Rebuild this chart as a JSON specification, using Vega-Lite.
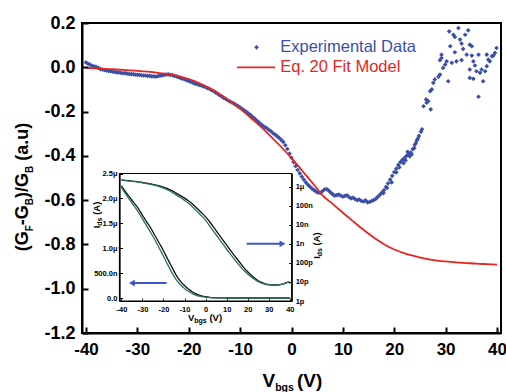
{
"$schema": "https://vega.github.io/schema/vega-lite/v6.json",
"width": 419, "height": 310,
"autosize": {"type": "none"},
"padding": {"left": 82, "top": 23, "right": 5, "bottom": 59},
"background": "white",
"config": {"font": "Liberation Sans", "view": {"stroke": "black", "strokeWidth": 2}, "axis": {"grid": false, "labelFont": "Liberation Sans", "labelFontWeight": "bold", "labelColor": "black", "domainColor": "black", "tickColor": "black"}},
"datasets": {
"exp": [
{"V":-40.0,"G":0.022},{"V":-39.6,"G":0.016},{"V":-39.2,"G":0.012},{"V":-38.8,"G":0.006},{"V":-38.4,"G":0.004},{"V":-38.0,"G":0.001},{"V":-37.6,"G":-0.003},{"V":-37.2,"G":-0.008},{"V":-36.8,"G":-0.010},{"V":-36.4,"G":-0.013},{"V":-36.0,"G":-0.014},{"V":-35.6,"G":-0.017},{"V":-35.2,"G":-0.017},{"V":-34.8,"G":-0.020},{"V":-34.4,"G":-0.021},{"V":-34.0,"G":-0.023},{"V":-33.6,"G":-0.023},{"V":-33.2,"G":-0.025},{"V":-32.8,"G":-0.027},{"V":-32.4,"G":-0.026},{"V":-32.0,"G":-0.029},{"V":-31.6,"G":-0.030},{"V":-31.2,"G":-0.031},{"V":-30.8,"G":-0.031},{"V":-30.4,"G":-0.033},{"V":-30.0,"G":-0.034},{"V":-29.6,"G":-0.034},{"V":-29.2,"G":-0.036},{"V":-28.8,"G":-0.037},{"V":-28.4,"G":-0.037},{"V":-28.0,"G":-0.039},{"V":-27.6,"G":-0.039},{"V":-27.2,"G":-0.041},{"V":-26.8,"G":-0.041},{"V":-26.4,"G":-0.042},{"V":-26.0,"G":-0.040},{"V":-25.6,"G":-0.038},{"V":-25.2,"G":-0.037},{"V":-24.8,"G":-0.034},{"V":-24.4,"G":-0.033},{"V":-24.0,"G":-0.032},{"V":-23.6,"G":-0.034},{"V":-23.2,"G":-0.035},{"V":-22.8,"G":-0.039},{"V":-22.4,"G":-0.041},{"V":-22.0,"G":-0.045},{"V":-21.6,"G":-0.048},{"V":-21.2,"G":-0.052},{"V":-20.8,"G":-0.054},{"V":-20.4,"G":-0.059},{"V":-20.0,"G":-0.062},{"V":-19.6,"G":-0.066},{"V":-19.2,"G":-0.069},{"V":-18.8,"G":-0.074},{"V":-18.4,"G":-0.076},{"V":-18.0,"G":-0.080},{"V":-17.6,"G":-0.082},{"V":-17.2,"G":-0.086},{"V":-16.8,"G":-0.089},{"V":-16.4,"G":-0.094},{"V":-16.0,"G":-0.097},{"V":-15.6,"G":-0.103},{"V":-15.2,"G":-0.107},{"V":-14.8,"G":-0.114},{"V":-14.4,"G":-0.119},{"V":-14.0,"G":-0.126},{"V":-13.6,"G":-0.131},{"V":-13.2,"G":-0.138},{"V":-12.8,"G":-0.143},{"V":-12.4,"G":-0.149},{"V":-12.0,"G":-0.154},{"V":-11.6,"G":-0.159},{"V":-11.2,"G":-0.164},{"V":-10.8,"G":-0.170},{"V":-10.4,"G":-0.175},{"V":-10.0,"G":-0.182},{"V":-9.6,"G":-0.188},{"V":-9.2,"G":-0.195},{"V":-8.8,"G":-0.201},{"V":-8.4,"G":-0.209},{"V":-8.0,"G":-0.215},{"V":-7.6,"G":-0.224},{"V":-7.2,"G":-0.231},{"V":-6.8,"G":-0.240},{"V":-6.4,"G":-0.247},{"V":-6.0,"G":-0.256},{"V":-5.6,"G":-0.263},{"V":-5.2,"G":-0.270},{"V":-4.8,"G":-0.275},{"V":-4.4,"G":-0.283},{"V":-4.0,"G":-0.289},{"V":-3.6,"G":-0.298},{"V":-3.2,"G":-0.304},{"V":-2.8,"G":-0.312},{"V":-2.4,"G":-0.319},{"V":-2.0,"G":-0.328},{"V":-1.6,"G":-0.337},{"V":-1.2,"G":-0.352},{"V":-0.8,"G":-0.369},{"V":-0.4,"G":-0.390},{"V":0.0,"G":-0.409},{"V":0.4,"G":-0.428},{"V":0.8,"G":-0.446},{"V":1.2,"G":-0.464},{"V":1.6,"G":-0.479},{"V":2.0,"G":-0.494},{"V":2.4,"G":-0.507},{"V":2.8,"G":-0.520},{"V":3.2,"G":-0.531},{"V":3.6,"G":-0.540},{"V":4.0,"G":-0.548},{"V":4.4,"G":-0.555},{"V":4.8,"G":-0.562},{"V":5.2,"G":-0.566},{"V":5.6,"G":-0.567},{"V":6.0,"G":-0.560},{"V":6.4,"G":-0.552},{"V":6.8,"G":-0.550},{"V":7.2,"G":-0.556},{"V":7.6,"G":-0.565},{"V":8.0,"G":-0.573},{"V":8.4,"G":-0.580},{"V":8.8,"G":-0.577},{"V":9.2,"G":-0.575},{"V":9.6,"G":-0.580},{"V":10.0,"G":-0.584},{"V":10.4,"G":-0.581},{"V":10.8,"G":-0.578},{"V":11.2,"G":-0.586},{"V":11.6,"G":-0.592},{"V":12.0,"G":-0.589},{"V":12.4,"G":-0.596},{"V":12.8,"G":-0.600},{"V":13.2,"G":-0.597},{"V":13.6,"G":-0.604},{"V":14.0,"G":-0.606},{"V":14.4,"G":-0.601},{"V":14.8,"G":-0.610},{"V":15.2,"G":-0.608},{"V":15.6,"G":-0.604},{"V":16.0,"G":-0.600},{"V":16.4,"G":-0.594},{"V":16.8,"G":-0.585},{"V":17.2,"G":-0.576},{"V":17.6,"G":-0.566},{"V":18.0,"G":-0.555},{"V":18.4,"G":-0.540},{"V":18.8,"G":-0.524},{"V":19.2,"G":-0.507},{"V":19.6,"G":-0.490},{"V":20.0,"G":-0.473},{"V":20.4,"G":-0.458},{"V":20.8,"G":-0.441},{"V":21.2,"G":-0.428},{"V":21.6,"G":-0.418},{"V":22.0,"G":-0.410},{"V":22.4,"G":-0.400},{"V":22.8,"G":-0.392},{"V":23.2,"G":-0.385},{"V":23.6,"G":-0.370},{"V":24.0,"G":-0.350},{"V":24.4,"G":-0.330},{"V":24.8,"G":-0.310},{"V":25.2,"G":-0.291},{"V":25.4,"G":-0.280},
{"V":19.5,"G":-0.520},{"V":20.4,"G":-0.475},{"V":21.0,"G":-0.452},{"V":21.8,"G":-0.433},{"V":22.2,"G":-0.420},{"V":23.0,"G":-0.402},{"V":23.4,"G":-0.393},{"V":23.9,"G":-0.365},{"V":22.6,"G":-0.382},{"V":24.2,"G":-0.342},{"V":24.6,"G":-0.322},{"V":17.9,"G":-0.568},{"V":18.6,"G":-0.545},
{"V":25.7,"G":-0.176},{"V":26.2,"G":-0.145},{"V":26.6,"G":-0.153},{"V":27.1,"G":-0.190},{"V":26.3,"G":-0.160},{"V":27.0,"G":-0.108},{"V":27.3,"G":-0.100},{"V":27.6,"G":-0.070},{"V":27.9,"G":-0.055},{"V":28.6,"G":-0.043},{"V":28.9,"G":-0.033},{"V":29.5,"G":-0.003},{"V":29.9,"G":0.012},{"V":30.2,"G":0.027},{"V":28.9,"G":0.032},{"V":29.2,"G":0.057},{"V":29.2,"G":0.042},{"V":30.5,"G":-0.063},{"V":30.7,"G":0.162},{"V":31.5,"G":0.147},{"V":32.5,"G":0.177},{"V":34.4,"G":0.167},{"V":31.8,"G":0.137},{"V":32.8,"G":0.125},{"V":33.8,"G":0.147},{"V":33.1,"G":0.107},{"V":34.7,"G":0.102},{"V":30.9,"G":0.095},{"V":31.8,"G":0.068},{"V":33.4,"G":0.083},{"V":35.1,"G":0.095},{"V":34.1,"G":0.057},{"V":33.1,"G":0.032},{"V":32.1,"G":0.027},{"V":31.2,"G":0.020},{"V":35.1,"G":0.053},{"V":36.4,"G":0.057},{"V":35.4,"G":0.027},{"V":35.7,"G":0.008},{"V":34.7,"G":-0.010},{"V":36.0,"G":-0.018},{"V":37.0,"G":-0.010},{"V":36.7,"G":-0.025},{"V":37.7,"G":-0.018},{"V":38.0,"G":0.005},{"V":38.3,"G":0.035},{"V":38.0,"G":0.057},{"V":39.0,"G":0.050},{"V":39.9,"G":0.087},{"V":39.6,"G":0.065},{"V":39.3,"G":0.053},{"V":38.6,"G":0.027},{"V":37.3,"G":-0.063},{"V":35.4,"G":-0.052},{"V":36.4,"G":-0.133},{"V":34.7,"G":-0.048}
],
"fit": [
{"V":-40,"G":-0.003},{"V":-38,"G":-0.005},{"V":-36,"G":-0.007},{"V":-34,"G":-0.010},{"V":-32,"G":-0.013},{"V":-30,"G":-0.016},{"V":-28,"G":-0.020},{"V":-26,"G":-0.025},{"V":-24,"G":-0.031},{"V":-22,"G":-0.040},{"V":-20,"G":-0.053},{"V":-18,"G":-0.071},{"V":-16,"G":-0.094},{"V":-14,"G":-0.121},{"V":-12,"G":-0.153},{"V":-10,"G":-0.188},{"V":-8,"G":-0.227},{"V":-6,"G":-0.268},{"V":-4,"G":-0.313},{"V":-2,"G":-0.360},{"V":0,"G":-0.410},{"V":1,"G":-0.437},{"V":2,"G":-0.465},{"V":3,"G":-0.493},{"V":4,"G":-0.520},{"V":5,"G":-0.549},{"V":6,"G":-0.577},{"V":8,"G":-0.617},{"V":10,"G":-0.657},{"V":12,"G":-0.696},{"V":14,"G":-0.734},{"V":16,"G":-0.769},{"V":18,"G":-0.799},{"V":20,"G":-0.823},{"V":22,"G":-0.840},{"V":24,"G":-0.853},{"V":26,"G":-0.864},{"V":28,"G":-0.872},{"V":30,"G":-0.877},{"V":32,"G":-0.881},{"V":34,"G":-0.884},{"V":36,"G":-0.887},{"V":38,"G":-0.889},{"V":40,"G":-0.891}
],
"iv": [
{"V":-40,"I":2.25e-6,"s":"A"},{"V":-38,"I":2.13e-6,"s":"A"},{"V":-36,"I":2.02e-6,"s":"A"},{"V":-34,"I":1.91e-6,"s":"A"},{"V":-32,"I":1.8e-6,"s":"A"},{"V":-30,"I":1.66e-6,"s":"A"},{"V":-28,"I":1.53e-6,"s":"A"},{"V":-26,"I":1.4e-6,"s":"A"},{"V":-24,"I":1.25e-6,"s":"A"},{"V":-22,"I":1.1e-6,"s":"A"},{"V":-20,"I":0.95e-6,"s":"A"},{"V":-18,"I":0.78e-6,"s":"A"},{"V":-16,"I":0.62e-6,"s":"A"},{"V":-14,"I":0.46e-6,"s":"A"},{"V":-12,"I":0.34e-6,"s":"A"},{"V":-10,"I":0.25e-6,"s":"A"},{"V":-8,"I":0.175e-6,"s":"A"},{"V":-6,"I":0.115e-6,"s":"A"},{"V":-4,"I":0.072e-6,"s":"A"},{"V":-2,"I":0.044e-6,"s":"A"},{"V":0,"I":2.6e-8,"s":"A"},{"V":2,"I":1.4e-8,"s":"A"},{"V":4,"I":7e-9,"s":"A"},{"V":6,"I":3.4e-9,"s":"A"},{"V":8,"I":1.7e-9,"s":"A"},{"V":10,"I":8.5e-10,"s":"A"},{"V":12,"I":4.3e-10,"s":"A"},{"V":14,"I":2.2e-10,"s":"A"},{"V":16,"I":1.15e-10,"s":"A"},{"V":18,"I":6e-11,"s":"A"},{"V":20,"I":3.4e-11,"s":"A"},{"V":22,"I":2.1e-11,"s":"A"},{"V":24,"I":1.4e-11,"s":"A"},{"V":26,"I":1e-11,"s":"A"},{"V":28,"I":8.2e-12,"s":"A"},{"V":30,"I":7.3e-12,"s":"A"},{"V":32,"I":6.9e-12,"s":"A"},{"V":34,"I":6.9e-12,"s":"A"},{"V":36,"I":7.4e-12,"s":"A"},{"V":38,"I":8.6e-12,"s":"A"},{"V":39.5,"I":1e-11,"s":"A"},{"V":40,"I":8.5e-12,"s":"A"},
{"V":-40,"I":2.22e-6,"s":"B"},{"V":-38,"I":2.09e-6,"s":"B"},{"V":-36,"I":1.97e-6,"s":"B"},{"V":-34,"I":1.85e-6,"s":"B"},{"V":-32,"I":1.73e-6,"s":"B"},{"V":-30,"I":1.59e-6,"s":"B"},{"V":-28,"I":1.45e-6,"s":"B"},{"V":-26,"I":1.31e-6,"s":"B"},{"V":-24,"I":1.16e-6,"s":"B"},{"V":-22,"I":1.0e-6,"s":"B"},{"V":-20,"I":0.84e-6,"s":"B"},{"V":-18,"I":0.67e-6,"s":"B"},{"V":-16,"I":0.51e-6,"s":"B"},{"V":-14,"I":0.37e-6,"s":"B"},{"V":-12,"I":0.27e-6,"s":"B"},{"V":-10,"I":0.19e-6,"s":"B"},{"V":-8,"I":0.13e-6,"s":"B"},{"V":-6,"I":0.083e-6,"s":"B"},{"V":-4,"I":0.05e-6,"s":"B"},{"V":-2,"I":0.03e-6,"s":"B"},{"V":0,"I":1.7e-8,"s":"B"},{"V":2,"I":8.5e-9,"s":"B"},{"V":4,"I":4.2e-9,"s":"B"},{"V":6,"I":2.1e-9,"s":"B"},{"V":8,"I":1.05e-9,"s":"B"},{"V":10,"I":5.2e-10,"s":"B"},{"V":12,"I":2.7e-10,"s":"B"},{"V":14,"I":1.4e-10,"s":"B"},{"V":16,"I":7.5e-11,"s":"B"},{"V":18,"I":4.2e-11,"s":"B"},{"V":20,"I":2.6e-11,"s":"B"},{"V":22,"I":1.7e-11,"s":"B"},{"V":24,"I":1.2e-11,"s":"B"},{"V":26,"I":9.2e-12,"s":"B"},{"V":28,"I":7.8e-12,"s":"B"},{"V":30,"I":7.1e-12,"s":"B"},{"V":32,"I":6.8e-12,"s":"B"},{"V":34,"I":6.9e-12,"s":"B"},{"V":36,"I":7.4e-12,"s":"B"},{"V":38,"I":8.6e-12,"s":"B"},{"V":39.5,"I":9.8e-12,"s":"B"},{"V":40,"I":8.3e-12,"s":"B"}
]
},
"layer": [
{
"layer": [
{"data": {"name": "exp"}, "mark": {"type": "point", "shape": "diamond", "filled": true, "size": 22, "color": "#3a4fa8", "opacity": 1},
 "encoding": {
  "x": {"field": "V", "type": "quantitative", "scale": {"domain": [-40.78, 40.78], "nice": false, "zero": false},
   "axis": {"orient": "bottom", "title": null, "values": [-40,-35,-30,-25,-20,-15,-10,-5,0,5,10,15,20,25,30,35,40], "labelExpr": "datum.value % 10 === 0 ? '' + datum.value : ''", "tickSize": -6, "tickDash": {"condition": {"test": "datum.value % 10 !== 0", "value": [3.5, 20]}, "value": [1, 0]}, "tickWidth": 2, "domainWidth": 2, "labelFontSize": 17, "labelPadding": 14, "labelFlush": false, "labelOverlap": false, "zindex": 1}},
  "y": {"field": "G", "type": "quantitative", "scale": {"domain": [-1.2, 0.2], "nice": false, "zero": false},
   "axis": {"orient": "left", "title": null, "values": [-1.2,-1.1,-1.0,-0.9,-0.8,-0.7,-0.6,-0.5,-0.4,-0.3,-0.2,-0.1,0,0.1,0.2], "labelExpr": "abs(round(datum.value*10)) % 2 === 0 ? replace(format(datum.value, '.1f'), '\u2212', '-') : ''", "tickSize": -6, "tickDash": {"condition": {"test": "abs(round(datum.value*10)) % 2 === 1", "value": [3.5, 20]}, "value": [1, 0]}, "tickWidth": 2, "domainWidth": 2, "labelFontSize": 18, "labelPadding": 13, "labelFlush": false, "labelOverlap": false, "zindex": 1}}
 }},
{"data": {"name": "fit"}, "mark": {"type": "line", "color": "#e5261e", "strokeWidth": 1.8, "interpolate": "monotone"},
 "encoding": {"x": {"field": "V", "type": "quantitative", "scale": {"domain": [-40.78, 40.78], "nice": false, "zero": false}}, "y": {"field": "G", "type": "quantitative", "scale": {"domain": [-1.2, 0.2], "nice": false, "zero": false}}}},
{"data": {"values": [{}]}, "mark": {"type": "point", "shape": "diamond", "filled": true, "size": 22, "color": "#3a4fa8", "opacity": 1},
 "encoding": {"x": {"datum": -6.8, "type": "quantitative", "scale": {"domain": [-40.78, 40.78], "nice": false, "zero": false}}, "y": {"datum": 0.09, "type": "quantitative", "scale": {"domain": [-1.2, 0.2], "nice": false, "zero": false}}}},
{"data": {"values": [{}]}, "mark": {"type": "text", "text": "Experimental Data", "align": "left", "baseline": "middle", "fontSize": 16.5, "font": "Liberation Sans", "color": "#3a4fa8"},
 "encoding": {"x": {"datum": -2.2, "type": "quantitative", "scale": {"domain": [-40.78, 40.78], "nice": false, "zero": false}}, "y": {"datum": 0.09, "type": "quantitative", "scale": {"domain": [-1.2, 0.2], "nice": false, "zero": false}}}},
{"data": {"values": [{}]}, "mark": {"type": "rule", "color": "#e5261e", "strokeWidth": 1.8},
 "encoding": {"x": {"datum": -10.6, "type": "quantitative", "scale": {"domain": [-40.78, 40.78], "nice": false, "zero": false}}, "x2": {"datum": -3.2}, "y": {"datum": 0.0, "type": "quantitative", "scale": {"domain": [-1.2, 0.2], "nice": false, "zero": false}}}},
{"data": {"values": [{}]}, "mark": {"type": "text", "text": "Eq. 20 Fit Model", "align": "left", "baseline": "middle", "fontSize": 16.5, "font": "Liberation Sans", "color": "#e5261e"},
 "encoding": {"x": {"datum": -2.2, "type": "quantitative", "scale": {"domain": [-40.78, 40.78], "nice": false, "zero": false}}, "y": {"datum": 0.0, "type": "quantitative", "scale": {"domain": [-1.2, 0.2], "nice": false, "zero": false}}}},
{"data": {"values": [{}]}, "mark": {"type": "text", "text": "V", "align": "left", "baseline": "alphabetic", "fontSize": 19, "fontWeight": "bold", "color": "black", "dx": -29, "dy": 54},
 "encoding": {"x": {"datum": 0, "type": "quantitative", "scale": {"domain": [-40.78, 40.78], "nice": false, "zero": false}}, "y": {"datum": -1.2, "type": "quantitative", "scale": {"domain": [-1.2, 0.2], "nice": false, "zero": false}}}},
{"data": {"values": [{}]}, "mark": {"type": "text", "text": "bgs", "align": "left", "baseline": "alphabetic", "fontSize": 10.5, "fontWeight": "bold", "color": "black", "dx": -16.3, "dy": 57.5},
 "encoding": {"x": {"datum": 0, "type": "quantitative", "scale": {"domain": [-40.78, 40.78], "nice": false, "zero": false}}, "y": {"datum": -1.2, "type": "quantitative", "scale": {"domain": [-1.2, 0.2], "nice": false, "zero": false}}}},
{"data": {"values": [{}]}, "mark": {"type": "text", "text": "(V)", "align": "left", "baseline": "alphabetic", "fontSize": 19, "fontWeight": "bold", "color": "black", "dx": 5.5, "dy": 54},
 "encoding": {"x": {"datum": 0, "type": "quantitative", "scale": {"domain": [-40.78, 40.78], "nice": false, "zero": false}}, "y": {"datum": -1.2, "type": "quantitative", "scale": {"domain": [-1.2, 0.2], "nice": false, "zero": false}}}},
{"data": {"values": [{}]}, "mark": {"type": "text", "text": "(G", "angle": 270, "align": "left", "baseline": "alphabetic", "fontSize": 18, "fontWeight": "bold", "color": "black", "dx": -73.25, "dy": -53.7},
 "encoding": {"x": {"datum": -40.78, "type": "quantitative", "scale": {"domain": [-40.78, 40.78], "nice": false, "zero": false}}, "y": {"datum": -0.5, "type": "quantitative", "scale": {"domain": [-1.2, 0.2], "nice": false, "zero": false}}}},
{"data": {"values": [{}]}, "mark": {"type": "text", "text": "F", "angle": 270, "align": "left", "baseline": "alphabetic", "fontSize": 10, "fontWeight": "bold", "color": "black", "dx": -53.25, "dy": -49},
 "encoding": {"x": {"datum": -40.78, "type": "quantitative", "scale": {"domain": [-40.78, 40.78], "nice": false, "zero": false}}, "y": {"datum": -0.5, "type": "quantitative", "scale": {"domain": [-1.2, 0.2], "nice": false, "zero": false}}}},
{"data": {"values": [{}]}, "mark": {"type": "text", "text": "-G", "angle": 270, "align": "left", "baseline": "alphabetic", "fontSize": 18, "fontWeight": "bold", "color": "black", "dx": -47.14, "dy": -53.7},
 "encoding": {"x": {"datum": -40.78, "type": "quantitative", "scale": {"domain": [-40.78, 40.78], "nice": false, "zero": false}}, "y": {"datum": -0.5, "type": "quantitative", "scale": {"domain": [-1.2, 0.2], "nice": false, "zero": false}}}},
{"data": {"values": [{}]}, "mark": {"type": "text", "text": "B", "angle": 270, "align": "left", "baseline": "alphabetic", "fontSize": 10, "fontWeight": "bold", "color": "black", "dx": -27.14, "dy": -49},
 "encoding": {"x": {"datum": -40.78, "type": "quantitative", "scale": {"domain": [-40.78, 40.78], "nice": false, "zero": false}}, "y": {"datum": -0.5, "type": "quantitative", "scale": {"domain": [-1.2, 0.2], "nice": false, "zero": false}}}},
{"data": {"values": [{}]}, "mark": {"type": "text", "text": ")/G", "angle": 270, "align": "left", "baseline": "alphabetic", "fontSize": 18, "fontWeight": "bold", "color": "black", "dx": -19.92, "dy": -53.7},
 "encoding": {"x": {"datum": -40.78, "type": "quantitative", "scale": {"domain": [-40.78, 40.78], "nice": false, "zero": false}}, "y": {"datum": -0.5, "type": "quantitative", "scale": {"domain": [-1.2, 0.2], "nice": false, "zero": false}}}},
{"data": {"values": [{}]}, "mark": {"type": "text", "text": "B", "angle": 270, "align": "left", "baseline": "alphabetic", "fontSize": 10, "fontWeight": "bold", "color": "black", "dx": 5.08, "dy": -49},
 "encoding": {"x": {"datum": -40.78, "type": "quantitative", "scale": {"domain": [-40.78, 40.78], "nice": false, "zero": false}}, "y": {"datum": -0.5, "type": "quantitative", "scale": {"domain": [-1.2, 0.2], "nice": false, "zero": false}}}},
{"data": {"values": [{}]}, "mark": {"type": "text", "text": "(a.u)", "angle": 270, "align": "left", "baseline": "alphabetic", "fontSize": 18, "fontWeight": "bold", "color": "black", "dx": 17.3, "dy": -53.7},
 "encoding": {"x": {"datum": -40.78, "type": "quantitative", "scale": {"domain": [-40.78, 40.78], "nice": false, "zero": false}}, "y": {"datum": -0.5, "type": "quantitative", "scale": {"domain": [-1.2, 0.2], "nice": false, "zero": false}}}}
]
},
{
"layer": [
{"data": {"values": [{}]}, "mark": {"type": "rect", "fill": "white", "stroke": "black", "strokeWidth": 1.2},
 "encoding": {
  "x": {"datum": -40.9, "type": "quantitative", "scale": {"domain": [-40.9, 40.9], "range": [37.5, 209.7], "nice": false, "zero": false},
   "axis": {"orient": "bottom", "offset": -32, "title": null, "values": [-40,-35,-30,-25,-20,-15,-10,-5,0,5,10,15,20,25,30,35,40], "labelExpr": "datum.value % 10 === 0 ? '' + datum.value : ''", "tickSize": -3, "tickDash": {"condition": {"test": "datum.value % 10 !== 0", "value": [2, 10]}, "value": [1, 0]}, "tickWidth": 1, "domainWidth": 1.2, "labelFontSize": 7.5, "labelPadding": 7.5, "labelFlush": false, "labelOverlap": false, "zindex": 1}},
  "x2": {"datum": 40.9},
  "y": {"datum": -6e-8, "type": "quantitative", "scale": {"domain": [-6e-8, 2.5e-6], "range": [278, 150.5], "nice": false, "zero": false},
   "axis": {"orient": "left", "offset": -37.5, "title": null, "values": [0, 2.5e-7, 5e-7, 7.5e-7, 1e-6, 1.25e-6, 1.5e-6, 1.75e-6, 2e-6, 2.25e-6, 2.5e-6], "labelExpr": "round(datum.value*4e6) % 2 !== 0 ? '' : datum.value === 0 ? '0.0' : datum.value < 9e-7 ? format(datum.value*1e9, '.1f') + 'n' : format(datum.value*1e6, '.1f') + '\u03bc'", "tickSize": -3, "tickDash": {"condition": {"test": "round(datum.value*4e6) % 2 !== 0", "value": [2, 10]}, "value": [1, 0]}, "tickWidth": 1, "domainWidth": 1.2, "labelFontSize": 7.5, "labelPadding": 5.5, "labelFlush": false, "labelOverlap": false, "zindex": 1}},
  "y2": {"datum": 2.5e-6}
 }},
{"data": {"name": "iv"}, "mark": {"type": "line", "strokeWidth": 1.3, "interpolate": "monotone"},
 "encoding": {"x": {"field": "V", "type": "quantitative", "scale": {"domain": [-40.9, 40.9], "range": [37.5, 209.7], "nice": false, "zero": false}}, "y": {"field": "I", "type": "quantitative", "scale": {"domain": [-6e-8, 2.5e-6], "range": [278, 150.5], "nice": false, "zero": false}}, "color": {"field": "s", "type": "nominal", "scale": {"domain": ["A", "B"], "range": ["#111111", "#2b6e62"]}, "legend": null}}},
{"data": {"values": [{}]}, "mark": {"type": "rule", "color": "#3d56c4", "strokeWidth": 2},
 "encoding": {"x": {"datum": -18.5, "type": "quantitative", "scale": {"domain": [-40.9, 40.9], "range": [37.5, 209.7], "nice": false, "zero": false}}, "x2": {"datum": -34.5}, "y": {"datum": 3e-7, "type": "quantitative", "scale": {"domain": [-6e-8, 2.5e-6], "range": [278, 150.5], "nice": false, "zero": false}}}},
{"data": {"values": [{}]}, "mark": {"type": "point", "shape": "triangle-left", "filled": true, "size": 45, "color": "#3d56c4", "opacity": 1},
 "encoding": {"x": {"datum": -35, "type": "quantitative", "scale": {"domain": [-40.9, 40.9], "range": [37.5, 209.7], "nice": false, "zero": false}}, "y": {"datum": 3e-7, "type": "quantitative", "scale": {"domain": [-6e-8, 2.5e-6], "range": [278, 150.5], "nice": false, "zero": false}}}},
{"data": {"values": [{}]}, "mark": {"type": "text", "text": "V", "align": "left", "baseline": "alphabetic", "fontSize": 9.5, "fontWeight": "bold", "color": "black", "dx": -17.6, "dy": 19.7},
 "encoding": {"x": {"datum": 0, "type": "quantitative", "scale": {"domain": [-40.9, 40.9], "range": [37.5, 209.7], "nice": false, "zero": false}}, "y": {"datum": -6e-8, "type": "quantitative", "scale": {"domain": [-6e-8, 2.5e-6], "range": [278, 150.5], "nice": false, "zero": false}}}},
{"data": {"values": [{}]}, "mark": {"type": "text", "text": "bgs", "align": "left", "baseline": "alphabetic", "fontSize": 7, "fontWeight": "bold", "color": "black", "dx": -11.3, "dy": 22},
 "encoding": {"x": {"datum": 0, "type": "quantitative", "scale": {"domain": [-40.9, 40.9], "range": [37.5, 209.7], "nice": false, "zero": false}}, "y": {"datum": -6e-8, "type": "quantitative", "scale": {"domain": [-6e-8, 2.5e-6], "range": [278, 150.5], "nice": false, "zero": false}}}},
{"data": {"values": [{}]}, "mark": {"type": "text", "text": "(V)", "align": "left", "baseline": "alphabetic", "fontSize": 9.5, "fontWeight": "bold", "color": "black", "dx": 3.8, "dy": 19.7},
 "encoding": {"x": {"datum": 0, "type": "quantitative", "scale": {"domain": [-40.9, 40.9], "range": [37.5, 209.7], "nice": false, "zero": false}}, "y": {"datum": -6e-8, "type": "quantitative", "scale": {"domain": [-6e-8, 2.5e-6], "range": [278, 150.5], "nice": false, "zero": false}}}},
{"data": {"values": [{}]}, "mark": {"type": "text", "text": "I", "angle": 270, "align": "left", "baseline": "alphabetic", "fontSize": 9.5, "fontWeight": "bold", "color": "black", "dx": 7.45, "dy": -19.5},
 "encoding": {"x": {"datum": -40.9, "type": "quantitative", "scale": {"domain": [-40.9, 40.9], "range": [37.5, 209.7], "nice": false, "zero": false}}, "y": {"datum": 1.25e-6, "type": "quantitative", "scale": {"domain": [-6e-8, 2.5e-6], "range": [278, 150.5], "nice": false, "zero": false}}}},
{"data": {"values": [{}]}, "mark": {"type": "text", "text": "ds", "angle": 270, "align": "left", "baseline": "alphabetic", "fontSize": 7, "fontWeight": "bold", "color": "black", "dx": 10.1, "dy": -17.3},
 "encoding": {"x": {"datum": -40.9, "type": "quantitative", "scale": {"domain": [-40.9, 40.9], "range": [37.5, 209.7], "nice": false, "zero": false}}, "y": {"datum": 1.25e-6, "type": "quantitative", "scale": {"domain": [-6e-8, 2.5e-6], "range": [278, 150.5], "nice": false, "zero": false}}}},
{"data": {"values": [{}]}, "mark": {"type": "text", "text": "(A)", "angle": 270, "align": "left", "baseline": "alphabetic", "fontSize": 9.5, "fontWeight": "bold", "color": "black", "dx": 20.9, "dy": -19.5},
 "encoding": {"x": {"datum": -40.9, "type": "quantitative", "scale": {"domain": [-40.9, 40.9], "range": [37.5, 209.7], "nice": false, "zero": false}}, "y": {"datum": 1.25e-6, "type": "quantitative", "scale": {"domain": [-6e-8, 2.5e-6], "range": [278, 150.5], "nice": false, "zero": false}}}}
]
},
{
"layer": [
{"data": {"name": "iv"}, "mark": {"type": "line", "strokeWidth": 1.3, "interpolate": "monotone"},
 "encoding": {
  "x": {"field": "V", "type": "quantitative", "scale": {"domain": [-40.9, 40.9], "range": [37.5, 209.7], "nice": false, "zero": false}, "axis": null},
  "y": {"field": "I", "type": "quantitative", "scale": {"type": "log", "domain": [1e-12, 4.9e-6], "range": [278, 150.5], "nice": false},
   "axis": {"orient": "right", "offset": -209.3, "title": null, "values": [1e-12, 1e-11, 1e-10, 1e-9, 1e-8, 1e-7, 1e-6], "labelExpr": "['1p','10p','100p','1n','10n','100n','1\u03bc'][round(log(datum.value)/LN10)+12]", "tickSize": -3, "tickWidth": 1, "domainWidth": 1.2, "labelFontSize": 7.5, "labelPadding": 6.5, "labelFlush": false, "labelOverlap": false, "zindex": 1}},
  "color": {"field": "s", "type": "nominal", "scale": {"domain": ["A", "B"], "range": ["#111111", "#2b6e62"]}, "legend": null}}},
{"data": {"values": [{}]}, "mark": {"type": "rule", "color": "#3d56c4", "strokeWidth": 2},
 "encoding": {"x": {"datum": 19.5, "type": "quantitative", "scale": {"domain": [-40.9, 40.9], "range": [37.5, 209.7], "nice": false, "zero": false}}, "x2": {"datum": 36}, "y": {"datum": 1e-9, "type": "quantitative", "scale": {"type": "log", "domain": [1e-12, 4.9e-6], "range": [278, 150.5], "nice": false}}}},
{"data": {"values": [{}]}, "mark": {"type": "point", "shape": "triangle-right", "filled": true, "size": 45, "color": "#3d56c4", "opacity": 1},
 "encoding": {"x": {"datum": 36.5, "type": "quantitative", "scale": {"domain": [-40.9, 40.9], "range": [37.5, 209.7], "nice": false, "zero": false}}, "y": {"datum": 1e-9, "type": "quantitative", "scale": {"type": "log", "domain": [1e-12, 4.9e-6], "range": [278, 150.5], "nice": false}}}},
{"data": {"values": [{}]}, "mark": {"type": "text", "text": "I", "angle": 270, "align": "left", "baseline": "alphabetic", "fontSize": 9.5, "fontWeight": "bold", "color": "black", "dx": -15, "dy": 27.8},
 "encoding": {"x": {"datum": 40.9, "type": "quantitative", "scale": {"domain": [-40.9, 40.9], "range": [37.5, 209.7], "nice": false, "zero": false}}, "y": {"datum": 1e-9, "type": "quantitative", "scale": {"type": "log", "domain": [1e-12, 4.9e-6], "range": [278, 150.5], "nice": false}}}},
{"data": {"values": [{}]}, "mark": {"type": "text", "text": "ds", "angle": 270, "align": "left", "baseline": "alphabetic", "fontSize": 7, "fontWeight": "bold", "color": "black", "dx": -12.36, "dy": 30},
 "encoding": {"x": {"datum": 40.9, "type": "quantitative", "scale": {"domain": [-40.9, 40.9], "range": [37.5, 209.7], "nice": false, "zero": false}}, "y": {"datum": 1e-9, "type": "quantitative", "scale": {"type": "log", "domain": [1e-12, 4.9e-6], "range": [278, 150.5], "nice": false}}}},
{"data": {"values": [{}]}, "mark": {"type": "text", "text": "(A)", "angle": 270, "align": "left", "baseline": "alphabetic", "fontSize": 9.5, "fontWeight": "bold", "color": "black", "dx": -1.6, "dy": 27.8},
 "encoding": {"x": {"datum": 40.9, "type": "quantitative", "scale": {"domain": [-40.9, 40.9], "range": [37.5, 209.7], "nice": false, "zero": false}}, "y": {"datum": 1e-9, "type": "quantitative", "scale": {"type": "log", "domain": [1e-12, 4.9e-6], "range": [278, 150.5], "nice": false}}}}
]
}
],
"resolve": {"scale": {"x": "independent", "y": "independent"}, "axis": {"x": "independent", "y": "independent"}}
}
